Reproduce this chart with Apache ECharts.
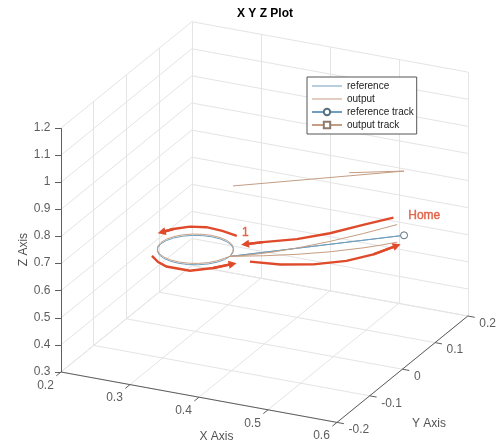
<!DOCTYPE html>
<html>
<head>
<meta charset="utf-8">
<title>X Y Z Plot</title>
<script src="https://cdn.jsdelivr.net/npm/echarts@6/dist/echarts.min.js"></script>
<style>
  html, body { margin: 0; padding: 0; background: #fff; }
  #chart { width: 500px; height: 448px; }
</style>
</head>
<body>
<div id="chart"></div>
<script>
// axis ticks
var xTicks = [0.2, 0.3, 0.4, 0.5, 0.6];
var yTicks = [-0.2, -0.1, 0, 0.1, 0.2];
var zTicks = [0.3, 0.4, 0.5, 0.6, 0.7, 0.8, 0.9, 1, 1.1, 1.2];

// reference: home -> point 1 -> circle -> back home
var refX = [0.555, 0.35, 0.3483, 0.3433, 0.3354, 0.325, 0.3129, 0.3, 0.2871, 0.275, 0.2646, 0.2567, 0.2517, 0.25,
            0.2517, 0.2567, 0.2646, 0.275, 0.2871, 0.3, 0.3129, 0.325, 0.3354, 0.3433, 0.3483, 0.35, 0.555];
var refY = [0.1, 0, 0.0129, 0.025, 0.0354, 0.0433, 0.0483, 0.05, 0.0483, 0.0433, 0.0354, 0.025, 0.0129, 0,
            -0.0129, -0.025, -0.0354, -0.0433, -0.0483, -0.05, -0.0483, -0.0433, -0.0354, -0.025, -0.0129, 0, 0.1];
var refZ = [0.675, 0.6, 0.6, 0.6, 0.6, 0.6, 0.6, 0.6, 0.6, 0.6, 0.6, 0.6, 0.6, 0.6,
            0.6, 0.6, 0.6, 0.6, 0.6, 0.6, 0.6, 0.6, 0.6, 0.6, 0.6, 0.6, 0.675];

// output: way out, circle, way back
var outX = [0.545, 0.506, 0.467, 0.428, 0.399, 0.3695, 0.35,
            0.3483, 0.3433, 0.3354, 0.325, 0.3129, 0.3, 0.2871, 0.275, 0.2646, 0.2567, 0.2517, 0.25,
            0.2517, 0.2567, 0.2646, 0.275, 0.2871, 0.3, 0.3129, 0.325, 0.3354, 0.3433, 0.3483,
            0.35, 0.389, 0.428, 0.467, 0.506, 0.5255, 0.545];
var outY = [0.1, 0.08, 0.06, 0.04, 0.025, 0.01, 0,
            0.0129, 0.025, 0.0354, 0.0433, 0.0483, 0.05, 0.0483, 0.0433, 0.0354, 0.025, 0.0129, 0,
            -0.0129, -0.025, -0.0354, -0.0433, -0.0483, -0.05, -0.0483, -0.0433, -0.0354, -0.025, -0.0129,
            0, 0.02, 0.04, 0.06, 0.08, 0.09, 0.1];
var outZ = [0.71, 0.6787, 0.6511, 0.6278, 0.6138, 0.6035, 0.6,
            0.605, 0.605, 0.605, 0.605, 0.605, 0.605, 0.605, 0.605, 0.605, 0.605, 0.605, 0.605,
            0.605, 0.605, 0.605, 0.605, 0.605, 0.605, 0.605, 0.605, 0.605, 0.605, 0.605,
            0.6, 0.6008, 0.6046, 0.6126, 0.6258, 0.6346, 0.645];

// output, start-up stroke above home
var hookX = [0.485, 0.555, 0.345];
var hookY = [0.08, 0.1, 0.02];
var hookZ = [0.893, 0.912, 0.838];

// current positions
var refTrackX = [0.555], refTrackY = [0.1], refTrackZ = [0.675];
var outTrackX = [], outTrackY = [], outTrackZ = [];

// hand-drawn arrows (x, y, z)
var arrowCircleTop = [[0.360, 0, 0.680], [0.339, 0, 0.689], [0.316, 0, 0.692], [0.292, 0, 0.683], [0.268, 0, 0.663], [0.251, 0, 0.643]];
var arrowCircleBottom = [[0.237, 0, 0.549], [0.246, 0, 0.531], [0.258, 0, 0.520], [0.292, 0, 0.520], [0.326, 0, 0.546], [0.354, 0, 0.574]];
var arrowOut = [[0.587, 0, 0.853], [0.543, 0, 0.806], [0.495, 0, 0.753], [0.447, 0, 0.709], [0.398, 0, 0.675], [0.372, 0, 0.655]];
var arrowBack = [[0.379, 0, 0.594], [0.423, 0, 0.604], [0.471, 0, 0.627], [0.519, 0, 0.662], [0.558, 0, 0.704], [0.592, 0, 0.752]];

// notes
var noteText = ['Home', '1'];
var noteX = [0.585, 0.373], noteY = [0.1, 0], noteZ = [0.761, 0.697];

var FONT = '"Liberation Sans", Arial, Helvetica, sans-serif';
var C_REF = '#6f9fbe', C_OUT = '#c59d82', C_NOTE = '#de4a2a';
var LINE_ICON = 'path://M0,0H30V1H0Z';

var xMin = xTicks[0], xMax = xTicks[xTicks.length - 1];
var yMin = yTicks[0], yMax = yTicks[yTicks.length - 1];
var zMin = zTicks[0], zMax = zTicks[zTicks.length - 1];

// view: screen spot of corner (xMin,yMin,zMin) and screen step per unit along x, y, z
var view = { o: [61, 372], ex: [690, 126], ey: [327, -266], ez: [0, -271] };

function proj(x, y, z) {
  var dx = x - xMin, dy = y - yMin, dz = z - zMin;
  return [view.o[0] + view.ex[0] * dx + view.ey[0] * dy + view.ez[0] * dz,
          view.o[1] + view.ex[1] * dx + view.ey[1] * dy + view.ez[1] * dz];
}
function shift(p, d) { return [p[0] + d[0], p[1] + d[1]]; }
function track(xs, ys, zs) { return xs.map(function (v, i) { return proj(v, ys[i], zs[i]); }); }
function path(pts) { return pts.map(function (p) { return proj(p[0], p[1], p[2]); }); }
function labelAt(p, text, align) { return { name: text, value: p, label: { align: align } }; }

// grid on the back wall, the left wall and the floor
var gridSegs = [];
xTicks.forEach(function (x) {
  gridSegs.push({ coords: [proj(x, yMax, zMin), proj(x, yMax, zMax)] });
  gridSegs.push({ coords: [proj(x, yMin, zMin), proj(x, yMax, zMin)] });
});
yTicks.forEach(function (y) {
  gridSegs.push({ coords: [proj(xMin, y, zMin), proj(xMin, y, zMax)] });
  gridSegs.push({ coords: [proj(xMin, y, zMin), proj(xMax, y, zMin)] });
});
zTicks.forEach(function (z) {
  gridSegs.push({ coords: [proj(xMin, yMax, z), proj(xMax, yMax, z)] });
  gridSegs.push({ coords: [proj(xMin, yMin, z), proj(xMin, yMax, z)] });
});

// axis lines, ticks and tick labels
var axisSegs = [
  { coords: [proj(xMin, yMin, zMin), proj(xMin, yMin, zMax)] },
  { coords: [proj(xMin, yMin, zMin), proj(xMax, yMin, zMin)] },
  { coords: [proj(xMax, yMin, zMin), proj(xMax, yMax, zMin)] }
];
var tickLabels = [];
zTicks.forEach(function (z) {
  var p = proj(xMin, yMin, z);
  axisSegs.push({ coords: [p, shift(p, [-6, 0])] });
  tickLabels.push(labelAt(shift(p, [-10, 0]), String(z), 'right'));
});
xTicks.forEach(function (x) {
  var p = proj(x, yMin, zMin);
  axisSegs.push({ coords: [p, shift(p, [-4.7, 3.8])] });
  tickLabels.push(labelAt(shift(p, [-15, 14]), String(x), 'center'));
});
yTicks.forEach(function (y) {
  var p = proj(xMax, y, zMin);
  axisSegs.push({ coords: [p, shift(p, [6.9, 1.3])] });
  tickLabels.push(labelAt(shift(p, [12, 8]), String(y), 'left'));
});

var axisNames = [
  labelAt(shift(proj((xMin + xMax) / 2, yMin, zMin), [18, 40]), 'X Axis', 'center'),
  labelAt(shift(proj(xMax, (yMin + yMax) / 2, zMin), [27, 55]), 'Y Axis', 'center'),
  { name: 'Z Axis', value: shift(proj(xMin, yMin, (zMin + zMax) / 2), [-37, 0]), label: { align: 'center', rotate: 90 } }
];

var notes = noteText.map(function (t, i) { return labelAt(proj(noteX[i], noteY[i], noteZ[i]), t, 'center'); });

// arrow bodies and their heads (last step of each arrow)
var arrowList = [arrowCircleTop, arrowCircleBottom, arrowOut, arrowBack];
var arrowBodies = arrowList.map(function (a) { return { coords: path(a) }; });
var arrowHeads = arrowList.map(function (a) { return { coords: path(a.slice(a.length - 2)) }; });

var textSeries = function (data, style) {
  return {
    type: 'scatter', silent: true, symbolSize: 1, z: 8,
    itemStyle: { color: 'rgba(0,0,0,0)' },
    label: Object.assign({ show: true, position: [0, 0], formatter: '{b}', verticalAlign: 'middle',
                           fontFamily: FONT, fontSize: 12, color: '#333' }, style),
    data: data
  };
};

var chart = echarts.init(document.getElementById('chart'));
chart.setOption({
  animation: false,
  backgroundColor: '#fff',
  title: {
    text: 'X Y Z Plot', left: 237, top: 8, padding: 0,
    textStyle: { fontSize: 12, fontWeight: 'bold', color: '#000', fontFamily: FONT }
  },
  legend: {
    data: [
      { name: 'reference', icon: LINE_ICON },
      { name: 'output', icon: LINE_ICON },
      { name: 'reference track' },
      { name: 'output track' }
    ],
    orient: 'vertical', left: 307, top: 77, z: 20,
    itemWidth: 30, itemHeight: 8, itemGap: 3, padding: [4, 3, 4, 4],
    borderColor: '#555', borderWidth: 1, borderRadius: 0, backgroundColor: '#fff',
    selectedMode: false,
    textStyle: { fontSize: 10, color: '#222', fontFamily: FONT }
  },
  grid: { left: 0, right: 0, top: 0, bottom: 0 },
  xAxis: { type: 'value', min: 0, max: 500, show: false },
  yAxis: { type: 'value', min: 0, max: 448, inverse: true, show: false },
  series: [
    { type: 'lines', coordinateSystem: 'cartesian2d', silent: true, z: 1,
      lineStyle: { color: '#e4e4e4', width: 1, opacity: 1 }, data: gridSegs },
    { type: 'lines', coordinateSystem: 'cartesian2d', silent: true, z: 2,
      lineStyle: { color: '#5e5e5e', width: 1, opacity: 1 }, data: axisSegs },
    { type: 'line', name: 'reference', symbol: 'none', silent: true, z: 3,
      lineStyle: { color: C_REF, width: 1 }, itemStyle: { color: C_REF }, data: track(refX, refY, refZ) },
    { type: 'line', name: 'output', symbol: 'none', silent: true, z: 4,
      lineStyle: { color: C_OUT, width: 1 }, itemStyle: { color: C_OUT }, data: track(outX, outY, outZ) },
    { type: 'line', name: 'output', symbol: 'none', silent: true, z: 4,
      lineStyle: { color: C_OUT, width: 1 }, itemStyle: { color: C_OUT }, data: track(hookX, hookY, hookZ) },
    { type: 'line', name: 'reference track', symbol: 'circle', symbolSize: 7, showSymbol: true, silent: true, z: 5,
      lineStyle: { color: C_REF, width: 1 }, itemStyle: { color: '#fff', borderColor: '#55707f', borderWidth: 1 },
      data: track(refTrackX, refTrackY, refTrackZ) },
    { type: 'line', name: 'output track', symbol: 'rect', symbolSize: 6, showSymbol: true, silent: true, z: 5,
      lineStyle: { color: C_OUT, width: 1 }, itemStyle: { color: '#fff', borderColor: '#8d7a6c', borderWidth: 1 },
      data: track(outTrackX, outTrackY, outTrackZ) },
    { type: 'lines', coordinateSystem: 'cartesian2d', polyline: true, silent: true, z: 6,
      lineStyle: { color: C_NOTE, width: 2.4, opacity: 1 }, data: arrowBodies },
    { type: 'lines', coordinateSystem: 'cartesian2d', silent: true, z: 6,
      symbol: ['none', 'triangle'], symbolSize: [0, 8],
      lineStyle: { color: C_NOTE, width: 2.4, opacity: 1 }, itemStyle: { color: C_NOTE }, data: arrowHeads },
    textSeries(tickLabels, {}),
    textSeries(axisNames, { color: '#262626' }),
    textSeries(notes, { color: C_NOTE, fontSize: 12, textBorderColor: C_NOTE, textBorderWidth: 0.4 })
  ]
});
</script>
</body>
</html>
